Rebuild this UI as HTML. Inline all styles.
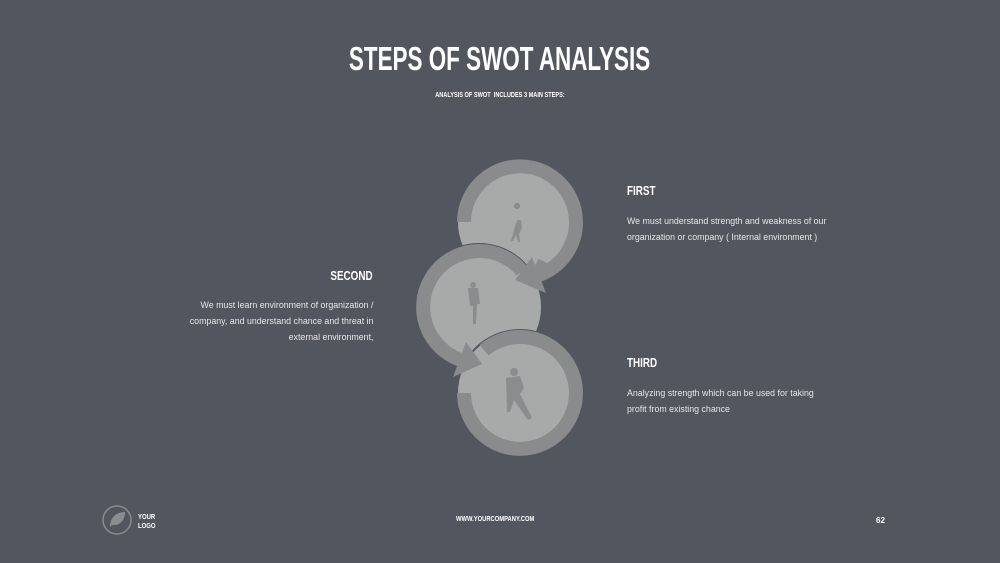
<!DOCTYPE html>
<html><head><style>
body{margin:0;width:1000px;height:563px;background:#52565e;overflow:hidden;position:relative;font-family:"Liberation Sans",sans-serif;color:#fff}
.t{position:absolute;white-space:nowrap}
.c{font-family:"Liberation Sans Narrow","Liberation Sans",sans-serif;font-weight:bold}
.p{font-size:9px;color:#e6e7e8;line-height:16px}
.n{display:inline-block;transform-origin:left top}
</style></head><body>
<div class="t c" style="left:0;width:1000px;text-align:center;top:40px;font-size:33px;"><span style="display:inline-block;transform:scaleX(0.68)">STEPS OF SWOT ANALYSIS</span></div>
<div class="t c" style="left:0;width:1000px;text-align:center;top:92px;font-size:7px"><span style="display:inline-block;transform:scaleX(0.8)">ANALYSIS OF SWOT &nbsp;INCLUDES 3 MAIN STEPS:</span></div>

<div class="t c" style="left:627px;top:183px;font-size:13px"><span class="n" style="transform:scaleX(0.76)">FIRST</span></div>
<div class="t p" style="left:627px;top:213px;transform:scaleX(0.98);transform-origin:left top">We must understand strength and weakness of our<br>organization or company ( Internal environment )</div>
<div class="t c" style="right:627px;top:268px;font-size:13px"><span class="n" style="transform:scaleX(0.76);transform-origin:right top">SECOND</span></div>
<div class="t p" style="right:627px;top:297px;text-align:right;transform:scaleX(0.98);transform-origin:right top">We must learn environment of organization /<br>company, and understand chance and threat in<br>external environment,</div>
<div class="t c" style="left:627px;top:355px;font-size:13px"><span class="n" style="transform:scaleX(0.76)">THIRD</span></div>
<div class="t p" style="left:627px;top:385px;transform:scaleX(0.98);transform-origin:left top">Analyzing strength which can be used for taking<br>profit from existing chance</div>

<svg width="1000" height="563" style="position:absolute;left:0;top:0">
<defs>
 <polygon id="a1" points="532,257 546,293 515,280"/>
 <polygon id="a2" points="466,342 453,377 482,364"/>
</defs>
<circle cx="520" cy="222" r="62" fill="#a7aaa9"/>
<path d="M464 222 A56 56 0 1 1 539 275" fill="none" stroke="#898b8c" stroke-width="14"/>
<path d="M514 230 l3-10 l4 0 l1 8 l-3 6 l1 8 -2 0 -2-7 -3 6 -2 0 z M517 203 a3 3 0 1 0 0.1 0 z" fill="#8a8c8e"/>

<circle cx="479" cy="307" r="64" fill="#52565e"/>
<circle cx="479" cy="307" r="62" fill="#a7aaa9"/>
<path d="M522 271 A56 56 0 1 0 459.8 359.6" fill="none" stroke="#898b8c" stroke-width="14"/>
<path d="M545 262 A56 56 0 0 1 537 274" fill="none" stroke="#898b8c" stroke-width="14"/>
<use href="#a1" fill="#898b8c"/>
<path d="M468 288 l10 0 l2 16 l-3 0 l-1 20 l-3 0 l0-18 l-3 0 z M473 282 a3 3 0 1 0 0.1 0 z" fill="#8a8c8e"/>

<circle cx="520" cy="393" r="64" fill="#52565e"/>
<circle cx="520" cy="393" r="62" fill="#a7aaa9"/>
<path d="M484 350 A56 56 0 1 1 464 393" fill="none" stroke="#898b8c" stroke-width="14"/>
<use href="#a2" fill="#898b8c"/>
<path d="M506 378 l14 -2 l4 12 l-4 6 l12 24 l-4 2 l-14-20 l-4 12 l-3 0 z M514 368 a4 4 0 1 0 0.1 0 z" fill="#8a8c8e"/>

<circle cx="117" cy="520" r="14" fill="none" stroke="#8a8c8e" stroke-width="1.5"/>
<path d="M110 527 C110 516 118 512 125 512 C125 522 118 526 112 525 Z" fill="#8a8c8e"/>
</svg>

<div class="t c" style="left:138px;top:513px;font-size:7px;line-height:9px"><span class="n" style="transform:scaleX(0.85)">YOUR<br>LOGO</span></div>
<div class="t c" style="left:0;width:990px;text-align:center;top:516px;font-size:7px"><span style="display:inline-block;transform:scaleX(0.83)">WWW.YOURCOMPANY.COM</span></div>
<div class="t c" style="left:876px;top:516px;font-size:8px">62</div>
</body></html>
